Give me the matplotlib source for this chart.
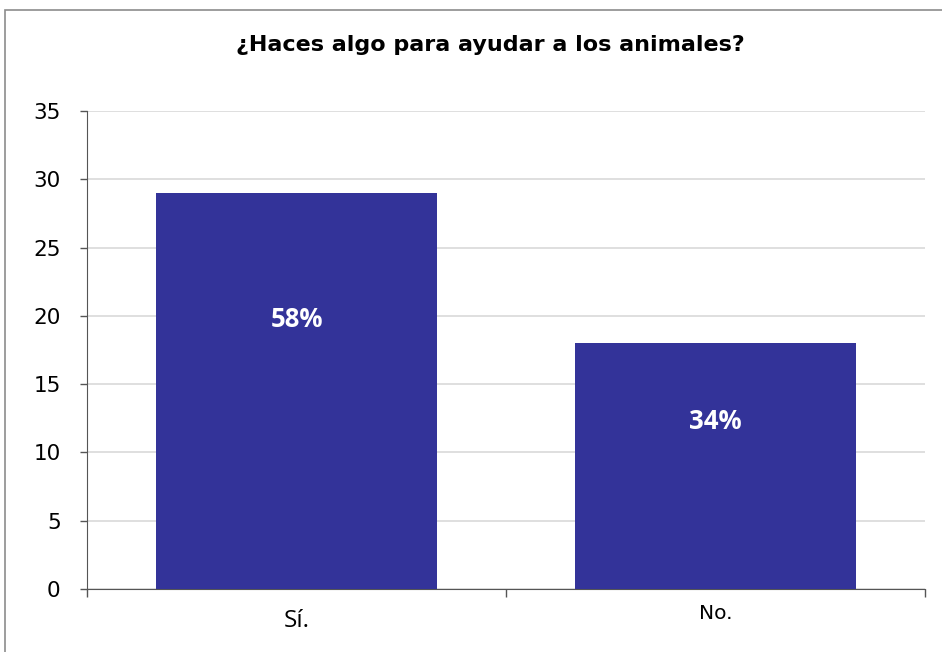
import matplotlib.pyplot as plt
from matplotlib.patches import Rectangle

categories = ["Sí.", "No."]
values = [29, 18]
pct_labels = ["58%", "34%"]
yticks = [0, 5, 10, 15, 20, 25, 30, 35]

bar_color = "#333399"

fig = plt.figure(figsize=(9.42, 6.52), dpi=100)
fig.patches.append(Rectangle((0.0055, -0.02), 1.1, 1.005, transform=fig.transFigure,
                             fill=False, edgecolor="#8c8c8c", linewidth=1.2))

ax = fig.add_axes([0.0924, 0.0966, 0.8896, 0.7332])
x = range(len(categories))
bars = ax.bar(x, values, width=0.67, color=bar_color, zorder=3)

for i, (v, lab) in enumerate(zip(values, pct_labels)):
    ax.text(i, v * 0.68, lab, ha="center", va="center", color="white",
            fontsize=18.5, fontweight="bold", family=["Open Sans", "DejaVu Sans"])

ax.set_xlim(-0.5, len(categories) - 0.5)
ax.set_ylim(0, 35)
ax.set_yticks(yticks)
ax.set_yticklabels([str(t) for t in yticks], family=["DejaVu Sans"], fontsize=15.5)
ax.yaxis.grid(True, color="#dcdcdc", linewidth=1.3, zorder=0)
ax.set_axisbelow(True)

# category ticks at boundaries, labels in between
ax.set_xticks([-0.5, 0.5, 1.5])
ax.set_xticklabels([])
ax.tick_params(axis="x", length=6, width=1, color="#555555", direction="out")
ax.tick_params(axis="y", length=5, width=1, color="#555555", direction="out", pad=14)
ax.text(0, -1.45, categories[0], ha="center", va="top", fontsize=17.5,
        family=["Open Sans", "DejaVu Sans"], transform=ax.transData)
ax.text(1, -1.1, categories[1], ha="center", va="top", fontsize=14.5,
        family=["DejaVu Sans"], transform=ax.transData)

for s in ["top", "right"]:
    ax.spines[s].set_visible(False)
ax.spines["left"].set_color("#555555")
ax.spines["bottom"].set_color("#555555")

fig.text(0.521, 0.931, "¿Haces algo para ayudar a los animales?", ha="center", va="center",
         fontsize=16, fontweight="bold", family=["DejaVu Sans"])

fig.savefig("out.png", dpi=100)
